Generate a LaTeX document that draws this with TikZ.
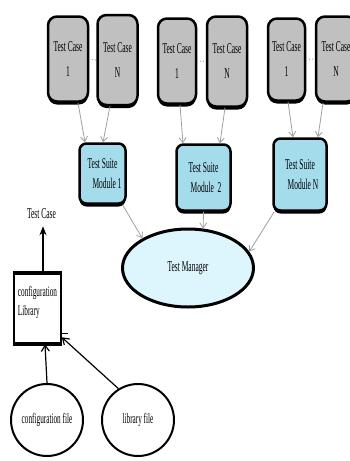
\documentclass[tikz,border=0pt]{standalone}
\usepackage{fontspec}
\setmainfont{Liberation Serif}
\usetikzlibrary{arrows.meta,shadows,shapes.geometric}
\definecolor{tcgray}{HTML}{C0C0C0}
\definecolor{modblue}{HTML}{A5DCEB}
\definecolor{tmcyan}{HTML}{DDF5FC}
\definecolor{arrgray}{HTML}{A0A0A0}
\newcommand{\sx}[1]{\scalebox{0.5}[1]{#1}}
\begin{document}
\begin{tikzpicture}[x=1pt,y=-1pt,
  tcbox/.style={draw=black, line width=2.5pt, rounded corners=9pt, fill=tcgray,
    drop shadow={shadow xshift=0pt, shadow yshift=-3pt, fill=black, opacity=1},
    inner sep=0pt, align=center, font=\fontsize{15}{17}\selectfont},
  modbox/.style={draw=black, line width=2.5pt, rounded corners=7pt, fill=modblue,
    drop shadow={shadow xshift=0pt, shadow yshift=-3pt, fill=black, opacity=1},
    inner sep=0pt, align=center, font=\fontsize{15}{17}\selectfont},
  garr/.style={draw=arrgray, line width=0.8pt, -{Straight Barb[length=5pt,width=7pt]}},
  barr/.style={draw=black, line width=1.2pt, -{Straight Barb[length=6pt,width=8pt]}},
  circ/.style={circle, draw=black, line width=2pt, minimum size=72pt, inner sep=0pt,
    fill=white, font=\fontsize{14.5}{17}\selectfont},
  lbl/.style={inner sep=2pt, font=\fontsize{15}{17}\selectfont}
]
\useasboundingbox (0,0) rectangle (350,461);
\clip (0,0) rectangle (350,461);
\fill[white] (0,0) rectangle (350,461);

% test case boxes
\node[tcbox, minimum width=40pt, minimum height=85pt] (a1) at (68,59) {\sx{Test Case}\\[8pt]\sx{1}};
\node[tcbox, minimum width=40pt, minimum height=90pt] (aN) at (117.5,60) {\sx{Test Case}\\[8pt]\sx{N}};
\node[tcbox, minimum width=38pt, minimum height=85pt] (b1) at (177,61) {\sx{Test Case}\\[8pt]\sx{1}};
\node[tcbox, minimum width=40pt, minimum height=90pt] (bN) at (227,61.5) {\sx{Test Case}\\[8pt]\sx{N}};
\node[tcbox, minimum width=37pt, minimum height=82pt] (c1) at (286.5,59.5) {\sx{Test Case}\\[8pt]\sx{1}};
\node[tcbox, minimum width=40pt, minimum height=85pt] (cN) at (336,59) {\sx{Test Case}\\[8pt]\sx{N}};

\draw[arrgray, dotted, line width=0.9pt] (a1.east) -- (aN.west);
\draw[arrgray, dotted, line width=0.9pt] (b1.east) -- (bN.west);
\draw[arrgray, dotted, line width=0.9pt] (c1.east) -- (cN.west);

% modules
\node[modbox, minimum width=46pt, minimum height=60pt] (m1) at (102.5,173.5) {\sx{Test Suite}\\[3pt]\hspace*{9pt}\sx{Module 1}};
\node[modbox, minimum width=54pt, minimum height=66pt] (m2) at (203.5,177.5) {\sx{Test Suite}\\[3pt]\hspace*{5pt}\sx{Module\ \ 2}};
\node[modbox, minimum width=53pt, minimum height=72pt] (mN) at (300,174.5) {\sx{Test Suite}\\[3pt]\hspace*{6pt}\sx{Module N}};

% test manager
\node[ellipse, draw=black, line width=3pt, fill=tmcyan, minimum width=131pt, minimum height=78pt,
  inner sep=0pt, font=\fontsize{15}{17}\selectfont] (tm) at (188,268) {\sx{Test Manager}};

% gray arrows
\draw[garr] ([xshift=10pt]a1.south) -- ([xshift=-17.5pt]m1.north);
\draw[garr] ([xshift=-7.5pt]aN.south) -- ([xshift=0.5pt]m1.north);
\draw[garr] ([xshift=3pt]b1.south) -- ([xshift=-20.5pt]m2.north);
\draw[garr] ([xshift=-2pt]bN.south) -- ([xshift=16.5pt]m2.north);
\draw[garr] ([xshift=1.5pt]c1.south) -- ([xshift=-7pt]mN.north);
\draw[garr] ([xshift=-13pt]cN.south) -- ([xshift=18pt]mN.north);

\draw[garr] ([xshift=20pt]m1.south) -- (tm.147);
\draw[garr] (m2.south) -- (tm.69);
\draw[garr] ([xshift=2pt]mN.south west) -- (tm.15);

% configuration library
\node[draw=black, line width=1.5pt, fill=white, minimum width=47pt, minimum height=70pt, inner sep=0pt] (cl) at (37.5,308.5) {};
\draw[line width=4pt] (cl.north west) -- (cl.north east);
\draw[line width=4pt] (cl.south west) -- (cl.south east);
\node[align=left, inner sep=0pt, font=\fontsize{14.5}{19}\selectfont] (clt) at (37.5,302.5) {\sx{configuration}\\\sx{Library}};
\draw[line width=1.5pt] ([yshift=11pt]cl.south east) -- ++(6,0);

\node[lbl] (tcl) at (41.5,214) {\sx{Test Case}};
\draw[black, line width=2pt, -{Stealth[length=9pt,width=7pt]}, shorten >=5pt] ([xshift=5.5pt]cl.north) -- ([xshift=1.5pt]tcl.south);

% files
\node[circ] (cf) at (47,420) {\sx{configuration file}};
\node[circ] (lf) at (138,420) {\sx{library file}};
\draw[barr] (cf.north) -- ([xshift=7.5pt]cl.south);
\draw[barr] (lf.122) -- ([yshift=7pt]cl.south east);
\end{tikzpicture}
\end{document}
